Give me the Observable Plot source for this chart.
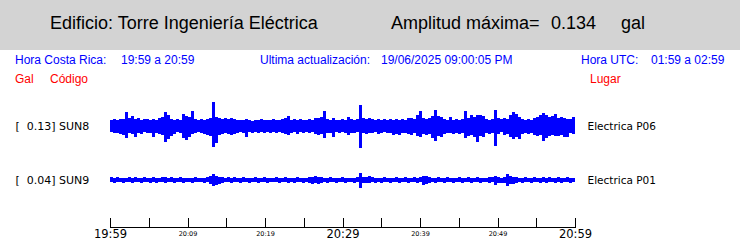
<!DOCTYPE html>
<html>
<head>
<meta charset="utf-8">
<script src="https://cdn.jsdelivr.net/npm/d3@7"></script>
<script src="https://cdn.jsdelivr.net/npm/@observablehq/plot@0.6"></script>
<style>
html, body { margin: 0; padding: 0; background: #fff; }
#page { position: relative; width: 740px; height: 241px; overflow: hidden; font-family: "Liberation Sans", Arial, sans-serif; }
#band { position: absolute; left: 0; top: 0; width: 740px; height: 50px; background: #d3d3d3; }
.t { position: absolute; white-space: pre; line-height: 1; }
.title { font-size: 18px; color: #000; top: 14px; }
.blue { font-size: 12px; color: #0000ff; top: 54px; }
.red { font-size: 12px; color: #ff0000; top: 72.5px; }
#chart { position: absolute; left: 0; top: 95px; }
</style>
</head>
<body>
<div id="page">
  <div id="band"></div>
  <div class="t title" style="left:50px">Edificio: Torre Ingeniería Eléctrica</div>
  <div class="t title" style="left:391px">Amplitud máxima=</div>
  <div class="t title" style="left:551px">0.134</div>
  <div class="t title" style="left:621px">gal</div>
  <div class="t blue" style="left:15px">Hora Costa Rica:</div>
  <div class="t blue" style="left:121px">19:59 a 20:59</div>
  <div class="t blue" style="left:260px">Ultima actualización:</div>
  <div class="t blue" style="left:381px">19/06/2025 09:00:05 PM</div>
  <div class="t blue" style="left:581px">Hora UTC:</div>
  <div class="t blue" style="left:651px">01:59 a 02:59</div>
  <div class="t red" style="left:15px">Gal</div>
  <div class="t red" style="left:50px">Código</div>
  <div class="t red" style="left:590px">Lugar</div>
  <div id="chart"></div>
</div>
<script>
// Stations
const codes = ["SUN8", "SUN9"];
const maxima = [0.13, 0.04];
const places = ["Electrica P06", "Electrica P01"];

// Time axis labels (Costa Rica time)
const startLabel = "19:59";
const endLabel = "20:59";
const bigLabels = ["19:59", "20:29", "20:59"];
const smallLabels = ["20:09", "20:19", "20:39", "20:49"];

// Envelope of each trace (gal), one max / min value per display column, 19:59 -> 20:59
const sun8Max = [
  .032,.038,.032,.038,.038,.076,.043,.054,.038,.043,
  .032,.038,.038,.032,.038,.032,.043,.049,.076,.059,
  .038,.032,.038,.032,.065,.054,.049,.081,.038,.032,
  .038,.032,.038,.043,.130,.049,.043,.038,.043,.038,
  .043,.038,.032,.032,.032,.038,.032,.027,.032,.032,
  .038,.032,.032,.032,.038,.032,.032,.038,.043,.054,
  .032,.038,.032,.038,.032,.032,.038,.032,.043,.043,
  .049,.081,.038,.032,.043,.032,.032,.038,.032,.049,
  .038,.032,.038,.113,.043,.038,.043,.038,.032,.038,
  .032,.038,.032,.038,.032,.038,.032,.038,.032,.043,
  .043,.038,.059,.081,.043,.038,.043,.054,.086,.054,
  .049,.038,.032,.049,.032,.038,.032,.038,.081,.043,
  .059,.049,.059,.059,.054,.038,.032,.038,.086,.043,
  .038,.043,.038,.059,.076,.065,.049,.038,.032,.038,
  .032,.043,.049,.059,.070,.059,.049,.054,.065,.043,
  .049,.043,.038,.038,.049
];
const sun8Min = [
  -.032,-.038,-.038,-.043,-.049,-.065,-.038,-.043,-.059,-.038,
  -.043,-.032,-.038,-.038,-.059,-.038,-.043,-.049,-.086,-.070,
  -.054,-.043,-.032,-.038,-.065,-.076,-.059,-.043,-.038,-.032,
  -.038,-.043,-.049,-.054,-.113,-.092,-.049,-.043,-.038,-.043,
  -.049,-.043,-.038,-.032,-.038,-.059,-.032,-.038,-.032,-.038,
  -.032,-.038,-.032,-.038,-.032,-.038,-.032,-.038,-.043,-.049,
  -.038,-.032,-.043,-.032,-.038,-.032,-.038,-.032,-.043,-.049,
  -.043,-.065,-.038,-.038,-.059,-.032,-.038,-.032,-.038,-.049,
  -.038,-.038,-.032,-.119,-.038,-.043,-.038,-.038,-.032,-.043,
  -.038,-.032,-.038,-.038,-.049,-.043,-.049,-.038,-.038,-.043,
  -.049,-.038,-.054,-.059,-.043,-.049,-.043,-.065,-.081,-.054,
  -.059,-.043,-.038,-.038,-.043,-.038,-.043,-.038,-.065,-.054,
  -.049,-.059,-.086,-.054,-.059,-.038,-.043,-.038,-.108,-.043,
  -.032,-.049,-.043,-.059,-.070,-.059,-.070,-.043,-.038,-.043,
  -.038,-.049,-.054,-.049,-.081,-.065,-.054,-.049,-.054,-.054,
  -.049,-.059,-.059,-.038,-.043
];
const sun9Max = [
  .016,.011,.016,.011,.011,.011,.016,.011,.016,.011,
  .011,.016,.011,.011,.016,.011,.011,.016,.016,.011,
  .016,.011,.011,.016,.011,.011,.011,.011,.016,.011,
  .011,.011,.016,.022,.032,.022,.016,.016,.011,.016,
  .011,.016,.011,.011,.016,.011,.011,.011,.016,.011,
  .011,.016,.011,.011,.011,.016,.011,.011,.016,.011,
  .011,.011,.016,.011,.011,.011,.016,.016,.022,.016,
  .016,.011,.011,.016,.011,.011,.011,.016,.011,.011,
  .011,.011,.016,.038,.016,.016,.022,.016,.011,.011,
  .011,.016,.011,.011,.011,.016,.011,.011,.016,.011,
  .011,.016,.011,.016,.022,.022,.016,.011,.011,.016,
  .011,.011,.016,.011,.011,.011,.016,.011,.011,.016,
  .011,.011,.016,.011,.011,.011,.016,.016,.022,.016,
  .011,.016,.032,.022,.016,.016,.011,.011,.016,.011,
  .011,.016,.011,.011,.016,.011,.016,.011,.011,.016,
  .011,.011,.016,.011,.011
];
const sun9Min = [
  -.011,-.016,-.011,-.011,-.016,-.011,-.011,-.016,-.011,-.011,
  -.016,-.011,-.011,-.016,-.011,-.016,-.011,-.011,-.016,-.011,
  -.011,-.016,-.011,-.011,-.016,-.011,-.011,-.016,-.011,-.011,
  -.011,-.016,-.011,-.022,-.032,-.027,-.022,-.016,-.011,-.011,
  -.016,-.011,-.011,-.016,-.011,-.011,-.016,-.011,-.011,-.016,
  -.011,-.011,-.016,-.011,-.011,-.011,-.016,-.011,-.011,-.016,
  -.011,-.016,-.011,-.011,-.016,-.011,-.016,-.022,-.016,-.022,
  -.016,-.011,-.016,-.011,-.011,-.016,-.011,-.011,-.016,-.011,
  -.011,-.016,-.011,-.043,-.016,-.016,-.016,-.011,-.016,-.011,
  -.016,-.011,-.011,-.016,-.011,-.011,-.016,-.011,-.011,-.016,
  -.011,-.011,-.016,-.011,-.027,-.022,-.016,-.011,-.016,-.011,
  -.011,-.016,-.011,-.011,-.016,-.011,-.011,-.016,-.011,-.011,
  -.016,-.011,-.011,-.016,-.011,-.011,-.016,-.011,-.027,-.016,
  -.016,-.016,-.032,-.022,-.022,-.016,-.011,-.016,-.011,-.011,
  -.016,-.011,-.011,-.016,-.011,-.016,-.011,-.011,-.016,-.011,
  -.016,-.011,-.011,-.016,-.011
];

const envMax = [sun8Max, sun9Max];
const envMin = [sun8Min, sun9Min];

const parseT = (s) => { const [h, m] = s.split(":").map(Number); return new Date(Date.UTC(2025, 5, 19, h, m)); };
const t0 = parseT(startLabel), t1 = parseT(endLabel);

const cols = [];
codes.forEach((code, k) => {
  const hi = envMax[k], lo = envMin[k], n = hi.length;
  const step = (t1 - t0) / n;
  for (let i = 0; i < n; i++) {
    cols.push({ code, a: new Date(+t0 + i * step), b: new Date(+t0 + (i + 1) * step), hi: hi[i], lo: lo[i] });
  }
});

const stations = codes.map((code, k) => ({ code, max: maxima[k], place: places[k] }));
const tickTimes = d3.range(0, (t1 - t0) / 60000 + 1, 5).map(m => new Date(+t0 + m * 60000));
const fmt = d3.utcFormat("%H:%M");

const chart = Plot.plot({
  width: 740,
  height: 146,
  marginLeft: 110,
  marginRight: 165,
  marginTop: 4,
  marginBottom: 34,
  style: { fontFamily: "DejaVu Sans", background: "transparent" },
  x: { type: "utc", domain: [t0, t1], axis: null },
  y: { domain: [-0.145, 0.145], axis: null },
  fy: { domain: codes, padding: 0, axis: null },
  marks: [
    Plot.rect(cols, { x1: "a", x2: "b", y1: "lo", y2: "hi", fy: "code", fill: "#0000ff", shapeRendering: "crispEdges" }),
    Plot.text(stations, { fy: "code", frameAnchor: "left", dx: -95, textAnchor: "start", fontSize: 11, fill: "#000",
      text: d => "[\u00a0\u00a0" + d.max.toFixed(2) + "] " + d.code }),
    Plot.text(stations, { fy: "code", frameAnchor: "right", dx: 12, textAnchor: "start", fontSize: 10.5, fill: "#000", text: "place" }),
    Plot.frame({ anchor: "bottom", dy: 20, stroke: "#000", facetAnchor: "bottom", shapeRendering: "crispEdges" }),
    Plot.axisX(tickTimes, { anchor: "bottom", tickSize: 9, dy: 11, tickFormat: () => "", stroke: "#000", shapeRendering: "crispEdges" }),
    Plot.axisX(bigLabels.map(parseT), { anchor: "bottom", tickSize: 0, tickPadding: 0, dy: 22, fontSize: 11.5, fill: "#000", tickFormat: fmt }),
    Plot.axisX(smallLabels.map(parseT), { anchor: "bottom", tickSize: 0, tickPadding: 0, dy: 24, fontSize: 6.5, fill: "#000", tickFormat: fmt })
  ]
});
document.getElementById("chart").appendChild(chart);
</script>
</body>
</html>
